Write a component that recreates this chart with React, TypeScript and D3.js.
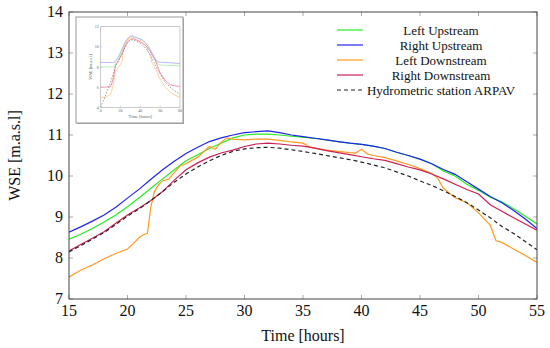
import React from 'react';
import * as d3 from 'd3';

// time axis shared by the main series (hours)
const hours = [15, 16, 17, 18, 19, 20, 21, 22, 23, 24, 25, 26, 27, 28, 29, 30, 31, 32, 33, 34, 35, 36, 37, 38, 39, 40, 41, 42, 43, 44, 45, 46, 47, 48, 49, 50, 51, 52, 53, 54, 55];

const leftUpstream = [8.46, 8.58, 8.72, 8.88, 9.05, 9.25, 9.47, 9.7, 9.93, 10.15, 10.37, 10.52, 10.67, 10.8, 10.93, 11.0, 11.02, 11.02, 11.0, 10.97, 10.95, 10.92, 10.88, 10.84, 10.8, 10.77, 10.73, 10.67, 10.58, 10.5, 10.41, 10.3, 10.12, 10.0, 9.8, 9.65, 9.48, 9.37, 9.2, 9.02, 8.83];
const rightUpstream = [8.63, 8.76, 8.9, 9.05, 9.24, 9.46, 9.68, 9.92, 10.15, 10.36, 10.55, 10.7, 10.84, 10.93, 11.0, 11.06, 11.08, 11.1, 11.06, 11.0, 10.96, 10.92, 10.88, 10.84, 10.8, 10.77, 10.73, 10.67, 10.58, 10.5, 10.41, 10.3, 10.16, 10.04, 9.86, 9.68, 9.5, 9.35, 9.16, 8.95, 8.72];
const rightDownstream = [8.17, 8.33, 8.48, 8.64, 8.85, 9.05, 9.22, 9.4, 9.62, 9.9, 10.15, 10.32, 10.46, 10.56, 10.63, 10.72, 10.78, 10.8, 10.78, 10.75, 10.73, 10.68, 10.62, 10.57, 10.52, 10.47, 10.42, 10.38, 10.3, 10.22, 10.15, 10.05, 9.93, 9.8, 9.67, 9.56, 9.3, 9.14, 8.98, 8.83, 8.68];
const arpav = [8.15, 8.3, 8.46, 8.62, 8.82, 9.02, 9.2, 9.4, 9.62, 9.85, 10.05, 10.22, 10.37, 10.5, 10.6, 10.66, 10.69, 10.7, 10.68, 10.64, 10.6, 10.55, 10.5, 10.45, 10.4, 10.34, 10.27, 10.2, 10.1, 10.0, 9.88, 9.77, 9.64, 9.5, 9.35, 9.17, 8.98, 8.77, 8.6, 8.4, 8.2];

// left downstream has its own, denser sampling
const hoursLD = [15, 16, 17, 18, 19, 20, 20.5, 21, 21.3, 21.7, 22, 22.3, 22.7, 23, 23.5, 24, 24.5, 25, 26, 27, 27.5, 28, 28.5, 29, 30, 31, 32, 33, 34, 35, 35.5, 36, 37, 38, 39, 39.5, 40, 40.5, 41, 42, 43, 44, 45, 46, 46.5, 47, 48, 49, 50, 50.5, 51, 51.5, 52, 53, 54, 55];
const leftDownstream = [7.54, 7.7, 7.83, 7.98, 8.11, 8.22, 8.35, 8.5, 8.56, 8.6, 9.25, 9.62, 9.8, 9.88, 9.92, 10.08, 10.25, 10.3, 10.46, 10.72, 10.65, 10.82, 10.93, 10.9, 10.88, 10.9, 10.9, 10.87, 10.83, 10.8, 10.72, 10.68, 10.63, 10.6, 10.57, 10.56, 10.65, 10.54, 10.5, 10.45, 10.37, 10.28, 10.18, 10.06, 9.95, 9.7, 9.47, 9.35, 9.1, 8.95, 8.8, 8.42, 8.38, 8.22, 8.06, 7.89];

// inset: whole simulation, before and after the main window
const insetHeadHours = [0, 5, 10, 12, 13, 14];
const insetTailHours = [58, 60, 65, 70, 75, 80];
const headLU = [8.0, 8.0, 8.0, 8.0, 8.02, 8.15];
const tailLU = [8.3, 8.2, 8.17, 8.15, 8.14, 8.12];
const headRU = [8.45, 8.45, 8.45, 8.45, 8.47, 8.5];
const tailRU = [8.5, 8.48, 8.45, 8.42, 8.38, 8.35];
const headLD = [5.0, 5.0, 5.3, 6.0, 6.5, 7.0];
const tailLD = [7.2, 6.8, 6.0, 5.5, 5.2, 5.0];
const headRD = [6.0, 6.0, 6.05, 6.6, 7.1, 7.6];
const tailRD = [7.9, 7.4, 6.7, 6.25, 6.12, 6.08];
const headAR = [4.0, 5.2, 6.5, 7.1, 7.45, 7.8];
const tailAR = [7.6, 7.3, 6.5, 6.0, 5.6, 5.3];

const legendLabels = ['Left Upstream', 'Right Upstream', 'Left Downstream', 'Right Downstream', 'Hydrometric station ARPAV'];
const xTicks = [15, 20, 25, 30, 35, 40, 45, 50, 55];
const yTicks = [7, 8, 9, 10, 11, 12, 13, 14];
const insetXTicks = [0, 20, 40, 60, 80];
const insetYTicks = [4, 6, 8, 10, 12];

const colors = ['#22ee22', '#2222ee', '#ff9922', '#cc1f55', '#222222'];
const insetColors = ['#99ee99', '#9999ff', '#ffbb77', '#ee6688', '#777777'];
const font = '"Liberation Serif", "DejaVu Serif", serif';

type Pt = [number, number];
const zip = (xs: number[], ys: number[]): Pt[] => xs.map((x, i) => [x, ys[i]]);

const App: React.FC = () => {
  const W = 550, H = 348;
  const m = { left: 69, right: 13, top: 12, bottom: 49 };
  const x = d3.scaleLinear().domain([15, 55]).range([m.left, W - m.right]);
  const y = d3.scaleLinear().domain([7, 14]).range([H - m.bottom, m.top]);
  const line = d3.line<Pt>().x(d => x(d[0])).y(d => y(d[1]));

  const series: Pt[][] = [
    zip(hours, leftUpstream),
    zip(hours, rightUpstream),
    zip(hoursLD, leftDownstream),
    zip(hours, rightDownstream),
    zip(hours, arpav),
  ];

  // inset
  const ix = d3.scaleLinear().domain([0, 80]).range([100.7, 180]);
  const iy = d3.scaleLinear().domain([4, 12]).range([107.3, 26.7]);
  const iline = d3.line<Pt>().x(d => ix(d[0])).y(d => iy(d[1]));
  const insetSeries: Pt[][] = [
    [...zip(insetHeadHours, headLU), ...series[0], ...zip(insetTailHours, tailLU)],
    [...zip(insetHeadHours, headRU), ...series[1], ...zip(insetTailHours, tailRU)],
    [...zip(insetHeadHours, headLD), ...series[2], ...zip(insetTailHours, tailLD)],
    [...zip(insetHeadHours, headRD), ...series[3], ...zip(insetTailHours, tailRD)],
    [...zip(insetHeadHours, headAR), ...series[4], ...zip(insetTailHours, tailAR)],
  ];

  const axisColor = '#444';
  const tickColor = '#aaa';
  const [x0, x1] = x.range();
  const [y0, y1] = y.range();

  return (
    <svg width={W} height={H} style={{ position: 'absolute', left: 0, top: 0, background: '#fff' }} fontFamily={font}>
      <defs>
        <clipPath id="plot-clip">
          <rect x={x0} y={y1} width={x1 - x0} height={y0 - y1} />
        </clipPath>
      </defs>

      {/* ticks (inward, mirrored) */}
      {xTicks.map(t => (
        <g key={'x' + t}>
          <line x1={x(t)} x2={x(t)} y1={y0} y2={y0 - 4} stroke={tickColor} />
          <line x1={x(t)} x2={x(t)} y1={y1} y2={y1 + 4} stroke={tickColor} />
          <text x={x(t)} y={y0 + 17} textAnchor="middle" fontSize={16} fill="#111">{t}</text>
        </g>
      ))}
      {yTicks.map(t => (
        <g key={'y' + t}>
          <line x1={x0} x2={x0 + 4} y1={y(t)} y2={y(t)} stroke={tickColor} />
          <line x1={x1} x2={x1 - 4} y1={y(t)} y2={y(t)} stroke={tickColor} />
          <text x={x0 - 6} y={y(t) + 5} textAnchor="end" fontSize={16} fill="#111">{t}</text>
        </g>
      ))}

      {/* main series */}
      <g clipPath="url(#plot-clip)">
        {series.map((s, i) => (
          <path key={i} d={line(s) || ''} fill="none" stroke={colors[i]} strokeWidth={1.2}
            strokeDasharray={i === 4 ? '4,3' : undefined} />
        ))}
      </g>

      {/* frame */}
      <rect x={x0} y={y1} width={x1 - x0} height={y0 - y1} fill="none" stroke={axisColor} strokeWidth={1} />
      <text x={(x0 + x1) / 2} y={341} textAnchor="middle" fontSize={16} fill="#111">Time [hours]</text>
      <text transform={`translate(20,${(y0 + y1) / 2}) rotate(-90)`} textAnchor="middle" fontSize={16} fill="#111">WSE [m.a.s.l]</text>

      {/* legend */}
      {legendLabels.map((l, i) => (
        <g key={l}>
          <line x1={337} x2={363} y1={30 + i * 15} y2={30 + i * 15} stroke={colors[i]} strokeWidth={1.2}
            strokeDasharray={i === 4 ? '4,3' : undefined} />
          <text x={441} y={30 + i * 15 + 4.5} textAnchor="middle" fontSize={13} fill="#111">{l}</text>
        </g>
      ))}

      {/* inset */}
      <rect x={77} y={18} width={107} height={106} fill="#aaa" />
      <rect x={76} y={17} width={107} height={106} fill="#fff" stroke="#999" strokeWidth={1} />
      {insetSeries.map((s, i) => (
        <path key={i} d={iline(s) || ''} fill="none" stroke={insetColors[i]} strokeWidth={0.7}
          strokeDasharray={i === 4 ? '1.5,1.5' : undefined} />
      ))}
      <rect x={ix(0)} y={iy(12)} width={ix(80) - ix(0)} height={iy(4) - iy(12)} fill="none" stroke="#aaa" strokeWidth={0.6} />
      {insetXTicks.map(t => (
        <g key={'ix' + t}>
          <line x1={ix(t)} x2={ix(t)} y1={iy(4)} y2={iy(4) - 1.5} stroke="#aaa" strokeWidth={0.5} />
          <text x={ix(t)} y={iy(4) + 5} textAnchor="middle" fontSize={4} fill="#666">{t}</text>
        </g>
      ))}
      {insetYTicks.map(t => (
        <g key={'iy' + t}>
          <line x1={ix(0)} x2={ix(0) + 1.5} y1={iy(t)} y2={iy(t)} stroke="#aaa" strokeWidth={0.5} />
          <text x={ix(0) - 2} y={iy(t) + 1.5} textAnchor="end" fontSize={4} fill="#666">{t}</text>
        </g>
      ))}
      <text x={(ix(0) + ix(80)) / 2} y={iy(4) + 11} textAnchor="middle" fontSize={4.5} fill="#666">Time [hours]</text>
      <text transform={`translate(${ix(0) - 9},${(iy(4) + iy(12)) / 2}) rotate(-90)`} textAnchor="middle" fontSize={4.5} fill="#666">WSE [m.a.s.l]</text>
    </svg>
  );
};

export default App;
